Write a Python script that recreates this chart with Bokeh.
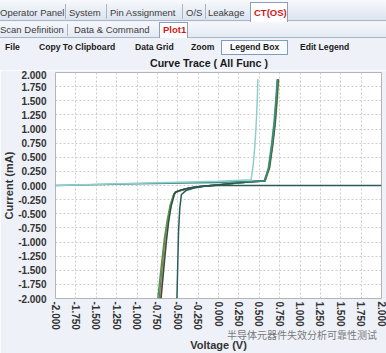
from bokeh.plotting import figure
from bokeh.models import Range1d, FixedTicker, Div, PrintfTickFormatter
from bokeh.layouts import column
from bokeh.embed import file_html
from bokeh.resources import INLINE

# ---------------- data ----------------
tick_values = [-2.0, -1.75, -1.5, -1.25, -1.0, -0.75, -0.5, -0.25, 0.0,
               0.25, 0.5, 0.75, 1.0, 1.25, 1.5, 1.75, 2.0]

v_green = [-0.745, -0.70, -0.665, -0.63, -0.595, -0.55, -0.53, -0.45, -0.35, -0.20, 0.00, 0.20, 0.40, 0.56, 0.61, 0.65, 0.68, 0.705, 0.72]
i_green = [-2.00, -1.40, -0.95, -0.62, -0.36, -0.16, -0.12, -0.08, -0.045, -0.015, 0.01, 0.04, 0.065, 0.078, 0.30, 0.72, 1.10, 1.55, 1.88]

v_orange = [-0.715, -0.68, -0.65, -0.615, -0.585, -0.545, -0.525, -0.45, -0.35, -0.20, 0.00, 0.20, 0.40, 0.57, 0.62, 0.66, 0.69, 0.715, 0.73]
i_orange = [-2.00, -1.45, -1.00, -0.62, -0.36, -0.16, -0.12, -0.08, -0.045, -0.015, 0.01, 0.04, 0.065, 0.078, 0.30, 0.70, 1.08, 1.52, 1.88]

v_olive = [-0.73, -0.69, -0.655, -0.62, -0.59, -0.55, -0.53, -0.45, -0.35, -0.20, 0.00, 0.20, 0.40, 0.575, 0.63, 0.67, 0.70, 0.725, 0.74]
i_olive = [-2.00, -1.42, -0.97, -0.62, -0.36, -0.16, -0.12, -0.08, -0.045, -0.015, 0.01, 0.04, 0.065, 0.08, 0.32, 0.74, 1.12, 1.56, 1.88]

v_blue = [-0.725, -0.685, -0.655, -0.62, -0.59, -0.548, -0.528, -0.45, -0.35, -0.20, 0.00, 0.20, 0.40, 0.565, 0.62, 0.66, 0.69, 0.712, 0.728]
i_blue = [-2.00, -1.43, -0.98, -0.62, -0.36, -0.16, -0.12, -0.08, -0.045, -0.015, 0.01, 0.04, 0.065, 0.078, 0.31, 0.72, 1.10, 1.54, 1.88]

v_dark = [-0.705, -0.67, -0.64, -0.61, -0.58, -0.54, -0.52, -0.45, -0.35, -0.20, 0.00, 0.20, 0.40, 0.568, 0.625, 0.665, 0.695, 0.718, 0.732]
i_dark = [-2.00, -1.45, -1.00, -0.62, -0.36, -0.15, -0.11, -0.075, -0.04, -0.012, 0.012, 0.042, 0.066, 0.078, 0.32, 0.73, 1.11, 1.55, 1.88]

v_teal = [-2.0, -1.0, 0.0, 0.30, 0.57, 0.62, 0.66, 0.69, 0.71, 0.725]
i_teal = [0.0, 0.03, 0.055, 0.07, 0.08, 0.33, 0.75, 1.15, 1.55, 1.88]

v_light = [-2.0, -1.0, 0.0, 0.40, 0.425, 0.447, 0.465, 0.478, 0.482]
i_light = [0.0, 0.04, 0.075, 0.10, 0.35, 0.72, 1.15, 1.60, 1.88]

v_flat = [-0.51, -0.50, -0.49, -0.475, -0.455, -0.40, -0.30, -0.15, 0.0, 2.0]
i_flat = [-2.0, -1.4, -0.8, -0.40, -0.16, -0.09, -0.045, -0.01, 0.0, 0.0]

curves = [
    (v_olive, i_olive, "#b9c23c"),
    (v_blue, i_blue, "#3d63b0"),
    (v_orange, i_orange, "#e58a3c"),
    (v_green, i_green, "#4e9a4a"),
    (v_dark, i_dark, "#2e4e4e"),
    (v_teal, i_teal, "#3a8c8c"),
    (v_light, i_light, "#8fcfcb"),
    (v_flat, i_flat, "#285c5c"),
]

BG = "#eef1f7"
FONT = "'Liberation Sans', Arial, sans-serif"


def span(txt, left, top, size, color="#3c3c3c", weight="normal", extra=""):
    return (f'<span style="position:absolute;left:{left}px;top:{top}px;font-size:{size}px;'
            f'line-height:{size + 2}px;color:{color};font-weight:{weight};white-space:nowrap;'
            f'font-family:{FONT};{extra}">{txt}</span>')


def box(left, top, w, h, style):
    return f'<div style="position:absolute;left:{left}px;top:{top}px;width:{w}px;height:{h}px;{style}"></div>'


parts = []
# row 1 tabs
parts.append(box(0, 0, 386, 21, "background:linear-gradient(#f7f9fc,#dde4ef);border-bottom:1px solid #a7b6cb;"))
for sx in [65, 106, 182, 205]:
    parts.append(box(sx, 4, 1, 15, "background:#aab6c8;"))
parts.append(box(250, 2, 38, 20, "background:#ffffff;border:1px solid #8da0bb;border-bottom:none;"))
for t, x in [("Operator Panel", 0), ("System", 69), ("Pin Assignment", 110), ("O/S", 186), ("Leakage", 208)]:
    parts.append(span(t, x, 7, 9.5))
parts.append(span("CT(OS)", 254, 7, 9.5, color="#d01818", weight="bold"))
# row 2 tabs
parts.append(box(0, 22, 386, 16, "background:linear-gradient(#f5f7fb,#e4e9f2);border-bottom:1px solid #a7b6cb;"))
parts.append(box(67, 24, 1, 12, "background:#aab6c8;"))
parts.append(box(159, 22, 29, 16, "background:#ffffff;border:1px solid #8da0bb;border-bottom:none;"))
parts.append(span("Scan Definition", 0, 24, 9.5))
parts.append(span("Data &amp; Command", 74, 24, 9.5))
parts.append(span("Plot1", 163, 24, 9.5, color="#d01818", weight="bold"))
# row 3 toolbar
parts.append(box(221, 40, 67, 15, "background:#f8fafd;border:1px solid #7f9db9;"))
for t, x in [("File", 5), ("Copy To Clipboard", 39), ("Data Grid", 135), ("Zoom", 191),
             ("Legend Box", 230), ("Edit Legend", 300)]:
    parts.append(span(t, x, 42, 8.6, color="#1a1a1a", weight="bold"))
# title
parts.append(span("Curve Trace ( All Func )", 150, 57, 10.6, color="#1a1a1a", weight="bold"))

watermark = span("半导体元器件失效分析可靠性测试", 227, 329, 10, color="rgba(105,105,105,0.9)",
                 extra="z-index:20;font-family:'Noto Sans CJK SC',sans-serif;")

html = ('<div style="position:relative;width:386px;height:70px;overflow:visible;">'
        f'<div style="position:absolute;left:0;top:0;width:386px;height:70px;overflow:hidden;background:{BG};">'
        + "".join(parts) + "</div>" + watermark + "</div>")

header = Div(text=html, width=386, height=70, margin=0,
             styles={"overflow": "visible", "z-index": "20"})

p = figure(width=386, height=283, x_range=Range1d(-2, 2), y_range=Range1d(-2, 2),
           output_backend="svg", toolbar_location=None,
           min_border_left=51, min_border_right=5, min_border_top=2, min_border_bottom=53,
           background_fill_color="white", border_fill_color=BG,
           outline_line_color="#b4b4b4")

for v, i, c in curves:
    p.line(v, i, line_color=c, line_width=1.5)

for ax in (p.xaxis[0], p.yaxis[0]):
    ax.ticker = FixedTicker(ticks=tick_values)
    ax.formatter = PrintfTickFormatter(format="%.3f")
    ax.axis_line_color = None
    ax.major_tick_line_color = None
    ax.minor_tick_line_color = None
    ax.major_tick_out = 0
    ax.major_tick_in = 0
    ax.minor_tick_out = 0
    ax.major_label_text_font = "Liberation Sans"
    ax.major_label_text_font_style = "bold"
    ax.major_label_text_font_size = "10px"
    ax.major_label_text_color = "#333333"
    ax.axis_label_text_font = "Liberation Sans"
    ax.axis_label_text_font_style = "bold"
    ax.axis_label_text_font_size = "11px"
    ax.axis_label_text_color = "#333333"

p.xaxis.axis_label = "Voltage (V)"
p.yaxis.axis_label = "Current (mA)"
p.xaxis.major_label_orientation = "vertical"
p.xaxis.major_label_standoff = 3
p.xaxis.axis_label_standoff = 6
p.yaxis.major_label_standoff = 9
p.yaxis.axis_label_standoff = 0

for g in (p.xgrid[0], p.ygrid[0]):
    g.ticker = FixedTicker(ticks=tick_values)
    g.grid_line_color = "#cdcdcd"
    g.grid_line_dash = "2 2"
    g.grid_line_width = 1

layout = column(header, p, spacing=0, margin=0)

open("out.html", "w").write(file_html(layout, INLINE))
